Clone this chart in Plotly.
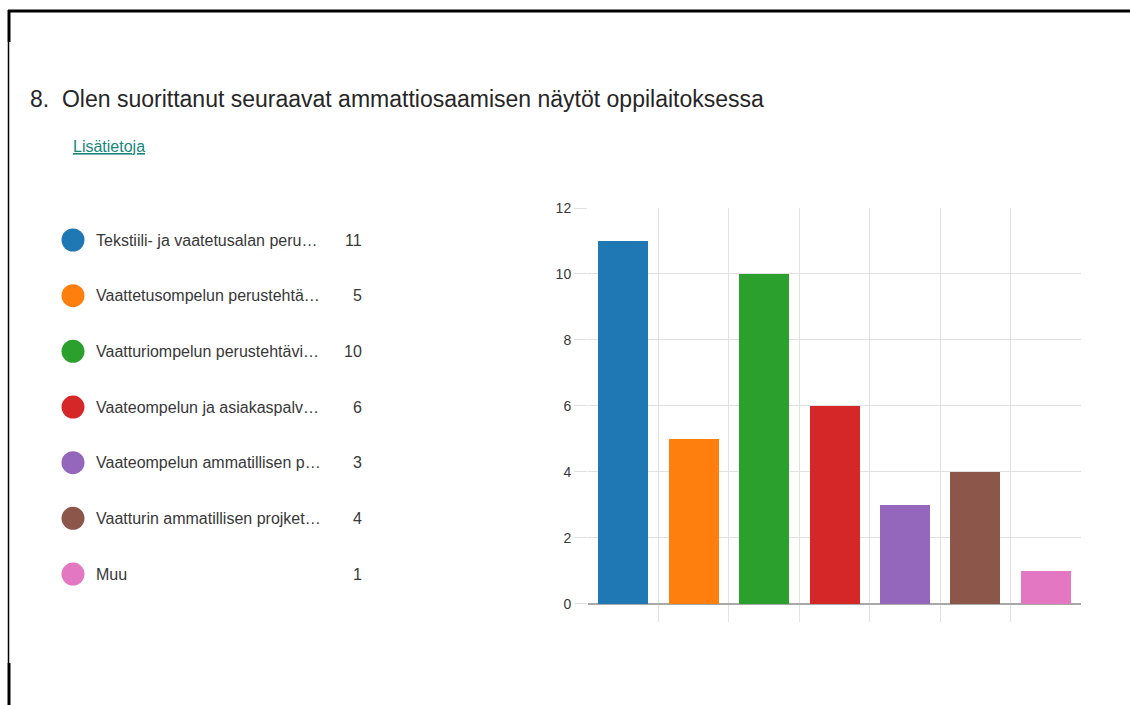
import plotly.graph_objects as go

# ---- data ----
categories = [
    "Tekstiili- ja vaatetusalan peru…",
    "Vaattetusompelun perustehtä…",
    "Vaatturiompelun perustehtävi…",
    "Vaateompelun ja asiakaspalv…",
    "Vaateompelun ammatillisen p…",
    "Vaatturin ammatillisen projket…",
    "Muu",
]
values = [11, 5, 10, 6, 3, 4, 1]
colors = ["#1f77b4", "#ff7f0e", "#2ca02c", "#d62728", "#9467bd", "#8c564b", "#e377c2"]
y_ticks = [0, 2, 4, 6, 8, 10, 12]
title_text = "8.  Olen suorittanut seuraavat ammattiosaamisen näytöt oppilaitoksessa"
link_text = "Lisätietoja"

W, H = 1130, 705
FONT = "Liberation Sans, Arial, sans-serif"

def px_x(p):
    return p / W

def px_y(p):
    return 1 - p / H

idx = list(range(len(categories)))

fig = go.Figure()

# bars
fig.add_trace(go.Bar(
    x=idx, y=values, width=0.71,
    marker=dict(color=colors, line=dict(width=0)),
    xaxis="x", yaxis="y", showlegend=False, hoverinfo="y",
))

# legend markers on a hidden helper axis
fig.add_trace(go.Scatter(
    x=[73] * len(idx), y=idx, mode="markers",
    marker=dict(color=colors, size=23, symbol="circle", line=dict(width=0)),
    xaxis="x2", yaxis="y2", showlegend=False, hoverinfo="skip",
))

annotations = []
for i, (c, v) in enumerate(zip(categories, values)):
    annotations.append(dict(
        x=94, y=i, xref="x2", yref="y2", text=c, showarrow=False,
        xanchor="left", yanchor="middle",
        font=dict(family=FONT, size=16, color="#383838"),
    ))
    annotations.append(dict(
        x=364, y=i, xref="x2", yref="y2", text=str(v), showarrow=False,
        xanchor="right", yanchor="middle",
        font=dict(family=FONT, size=16, color="#383838"),
    ))

annotations.append(dict(
    x=px_x(28), y=px_y(99), xref="paper", yref="paper", text=title_text,
    showarrow=False, xanchor="left", yanchor="middle",
    font=dict(family=FONT, size=23, color="#262626"),
))
annotations.append(dict(
    x=px_x(71), y=px_y(147), xref="paper", yref="paper",
    text="<u>" + link_text + "</u>",
    showarrow=False, xanchor="left", yanchor="middle",
    font=dict(family=FONT, size=16, color="#17877a"),
))

# border lines (page frame)
shapes = [
    dict(type="line", xref="paper", yref="paper", x0=px_x(8), x1=1,
         y0=px_y(11), y1=px_y(11), line=dict(color="black", width=3)),
    dict(type="line", xref="paper", yref="paper", x0=px_x(9), x1=px_x(9),
         y0=px_y(10), y1=px_y(42), line=dict(color="black", width=3)),
    dict(type="line", xref="paper", yref="paper", x0=px_x(8.5), x1=px_x(8.5),
         y0=px_y(42), y1=px_y(663), line=dict(color="black", width=1.5)),
    dict(type="line", xref="paper", yref="paper", x0=px_x(9), x1=px_x(9),
         y0=px_y(663), y1=px_y(705), line=dict(color="black", width=3)),
]

# legend helper axis: rows spaced 55.67 px, row 0 at y=240
row0, step = 240, 55.67
y2_range = [(H - row0) / step, -row0 / step]

fig.update_layout(
    width=W, height=H, autosize=False,
    margin=dict(l=0, r=0, t=0, b=0, pad=0, autoexpand=False),
    paper_bgcolor="white", plot_bgcolor="white",
    font=dict(family=FONT),
    annotations=annotations,
    shapes=shapes,
    bargap=0,
    xaxis=dict(
        domain=[px_x(588), px_x(1081)], range=[-0.5, 6.5], automargin=False,
        tickmode="array", tickvals=[i - 0.5 for i in range(len(idx) + 1)],
        showticklabels=False, showgrid=True, gridcolor="#e1e1e1", gridwidth=1,
        zeroline=False, showline=False, ticks="", fixedrange=True,
    ),
    yaxis=dict(
        domain=[1 - 622 / H, 1 - 208 / H], range=[-0.55, 12], automargin=False,
        tickmode="array", tickvals=y_ticks, ticktext=[str(t) for t in y_ticks],
        showgrid=True, gridcolor="#e1e1e1", gridwidth=1,
        zeroline=True, zerolinecolor="#a8a8a8", zerolinewidth=2,
        ticks="outside", ticklen=13, tickcolor="#e1e1e1", tickwidth=1,
        tickfont=dict(family=FONT, size=14, color="#383838"),
        showline=False, fixedrange=True,
    ),
    xaxis2=dict(domain=[0, 0.5], range=[0, 565], visible=False, fixedrange=True,
                automargin=False),
    yaxis2=dict(domain=[0, 1], range=y2_range, visible=False, fixedrange=True,
                anchor="x2", automargin=False),
)
fig.data[1].update(xaxis="x2", yaxis="y2")

fig.write_html("out.html")
